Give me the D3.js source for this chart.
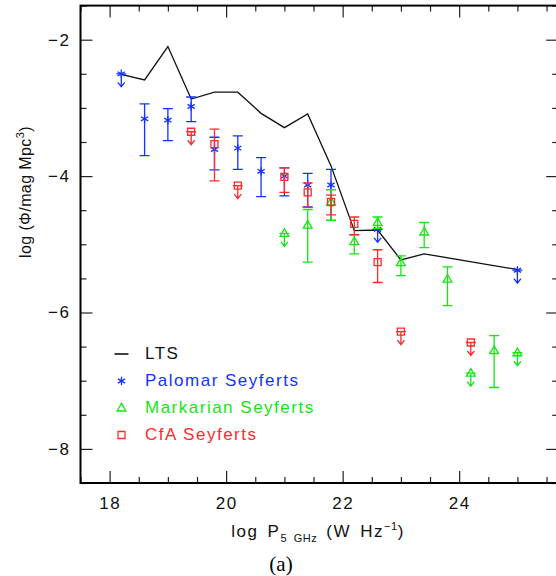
<!DOCTYPE html>
<html>
<head>
<meta charset="utf-8">
<script src="https://cdn.jsdelivr.net/npm/d3@7/dist/d3.min.js"></script>
<style>
  html, body { margin: 0; padding: 0; background: #fff; }
  svg { display: block; }
  text { font-family: "Liberation Sans", Arial, sans-serif; }
</style>
</head>
<body>
<svg id="chart" width="556" height="576"></svg>
<script>
// Radio luminosity function: log P(5 GHz) vs log Phi
const xMajorTicks = [18, 20, 22, 24];
const yMajorTicks = [-2, -4, -6, -8];

// LTS luminosity function (solid line)
const ltsLogP = [18.2, 18.6, 19.0, 19.4, 19.8, 20.2, 20.6, 21.0, 21.4, 21.8, 22.2, 22.6, 23.0, 23.4, 25.0];
const ltsLogPhi = [-2.51, -2.59, -2.10, -2.87, -2.77, -2.77, -3.08, -3.29, -3.09, -3.85, -4.80, -4.79, -5.23, -5.14, -5.37];

// Each point: [logP, logPhi, upper error end, lower error end]; null ends = upper limit
const palomarPoints = [
  [18.2, -2.50, null, null],
  [18.6, -3.16, -2.94, -3.70],
  [19.0, -3.18, -3.01, -3.48],
  [19.4, -2.98, -2.84, -3.20],
  [19.8, -3.61, -3.43, -3.91],
  [20.2, -3.59, -3.41, -3.90],
  [20.6, -3.93, -3.73, -4.30],
  [21.0, -4.00, -3.88, -4.29],
  [21.4, -4.13, -3.96, -4.45],
  [21.8, -4.13, -3.90, -4.65],
  [22.6, -4.78, null, null],
  [25.0, -5.38, null, null]
];
const markarianPoints = [
  [21.0, -4.84, null, null],
  [21.4, -4.72, -4.49, -5.26],
  [21.8, -4.38, -4.20, -4.65],
  [22.2, -4.96, -4.86, -5.14],
  [22.6, -4.68, -4.60, -4.77],
  [23.0, -5.27, -5.17, -5.46],
  [23.4, -4.82, -4.68, -5.05],
  [23.8, -5.51, -5.33, -5.90],
  [24.2, -6.89, null, null],
  [24.6, -6.56, -6.34, -7.10],
  [25.0, -6.59, null, null]
];
const cfaPoints = [
  [19.4, -3.35, null, null],
  [19.8, -3.53, -3.31, -4.07],
  [20.2, -4.14, null, null],
  [21.0, -4.01, -3.88, -4.24],
  [21.4, -4.24, -4.10, -4.46],
  [21.8, -4.38, -4.28, -4.57],
  [22.2, -4.70, -4.60, -4.86],
  [22.6, -5.26, -5.08, -5.56],
  [23.0, -6.28, null, null],
  [24.2, -6.44, null, null]
];

const seriesNames = ["Palomar Seyferts", "Markarian Seyferts", "CfA Seyferts"];
const seriesColors = ["#1432ff", "#14e614", "#ff2a2a"];
const seriesSymbols = ["asterisk", "triangle", "square"];
const seriesData = [palomarPoints, markarianPoints, cfaPoints];

const svg = d3.select("#chart");

const x = d3.scaleLinear().domain([17.5, 25.7]).range([80.5, 558.2]);
const y = d3.scaleLinear().domain([-8.5, -1.5]).range([483, 5.6]);

const xMinor = d3.range(17.5, 25.51, 0.5).filter(v => !xMajorTicks.includes(v));
const yMinor = d3.range(-8.5, -1.49, 0.5).filter(v => !yMajorTicks.includes(v));

const [plotLeft, plotRight] = x.range();
const [plotBottom, plotTop] = y.range();

// Axes: ticks point into the plot on all four sides
function styleAxis(g) {
  g.selectAll(".domain").remove();
  g.selectAll(".tick line").attr("stroke", "#222").attr("stroke-width", 1.2);
  g.selectAll(".tick text")
    .attr("fill", "#111")
    .style("font-size", "17px")
    .style("letter-spacing", "1.5px");
}
const fmt = d => d < 0 ? "\u2212" + Math.abs(d) : String(d);

svg.append("g").attr("transform", `translate(0,${plotBottom})`)
  .call(d3.axisBottom(x).tickValues(xMajorTicks).tickSize(-12).tickSizeOuter(0).tickPadding(14).tickFormat(fmt))
  .call(styleAxis);
svg.append("g").attr("transform", `translate(0,${plotBottom})`)
  .call(d3.axisBottom(x).tickValues(xMinor).tickSize(-6).tickSizeOuter(0).tickFormat(""))
  .call(styleAxis);
svg.append("g").attr("transform", `translate(0,${plotTop})`)
  .call(d3.axisTop(x).tickValues(xMajorTicks).tickSize(-12).tickSizeOuter(0).tickFormat(""))
  .call(styleAxis);
svg.append("g").attr("transform", `translate(0,${plotTop})`)
  .call(d3.axisTop(x).tickValues(xMinor).tickSize(-6).tickSizeOuter(0).tickFormat(""))
  .call(styleAxis);
svg.append("g").attr("transform", `translate(${plotLeft},0)`)
  .call(d3.axisLeft(y).tickValues(yMajorTicks).tickSize(-12).tickSizeOuter(0).tickPadding(10).tickFormat(fmt))
  .call(styleAxis);
svg.append("g").attr("transform", `translate(${plotLeft},0)`)
  .call(d3.axisLeft(y).tickValues(yMinor).tickSize(-6).tickSizeOuter(0).tickFormat(""))
  .call(styleAxis);
svg.append("g").attr("transform", `translate(${plotRight},0)`)
  .call(d3.axisRight(y).tickValues(yMajorTicks).tickSize(-12).tickSizeOuter(0).tickFormat(""))
  .call(styleAxis);
svg.append("g").attr("transform", `translate(${plotRight},0)`)
  .call(d3.axisRight(y).tickValues(yMinor).tickSize(-6).tickSizeOuter(0).tickFormat(""))
  .call(styleAxis);

// Plot frame
svg.append("rect")
  .attr("x", plotLeft).attr("y", plotTop)
  .attr("width", plotRight - plotLeft).attr("height", plotBottom - plotTop)
  .attr("fill", "none").attr("stroke", "#000").attr("stroke-width", 2);

// Symbol paths
function symbolPath(kind) {
  if (kind === "asterisk") {
    const r = 4.2, c = r * Math.cos(Math.PI / 6), s = r * Math.sin(Math.PI / 6);
    return `M0,${-r}L0,${r}M${-c},${-s}L${c},${s}M${-c},${s}L${c},${-s}`;
  }
  if (kind === "triangle") return "M0,-4.6L4.4,3L-4.4,3Z";
  return "M-3.5,-3.5H3.5V3.5H-3.5Z";
}

// LTS line
svg.append("path")
  .datum(d3.zip(ltsLogP, ltsLogPhi))
  .attr("fill", "none").attr("stroke", "#111").attr("stroke-width", 1.3)
  .attr("d", d3.line().x(d => x(d[0])).y(d => y(d[1])));

// Data series: error bars, upper limits, markers
const capHalf = 5;
seriesData.forEach((pts, i) => {
  const col = seriesColors[i];
  const g = svg.append("g").attr("stroke", col).attr("fill", "none").attr("stroke-width", 1.3);
  pts.forEach(([px, py, hi, lo]) => {
    const cx = x(px), cy = y(py);
    if (hi === null) {
      const tip = cy + 13;
      g.append("path").attr("d",
        `M${cx - capHalf},${cy}H${cx + capHalf}M${cx},${cy}V${tip}M${cx - 3.5},${tip - 4.5}L${cx},${tip}L${cx + 3.5},${tip - 4.5}`);
    } else {
      const yh = y(hi), yl = y(lo);
      g.append("path").attr("d",
        `M${cx},${yh}V${yl}M${cx - capHalf},${yh}H${cx + capHalf}M${cx - capHalf},${yl}H${cx + capHalf}`);
    }
    g.append("path").attr("transform", `translate(${cx},${cy})`).attr("d", symbolPath(seriesSymbols[i]));
  });
});

// Legend
const legend = svg.append("g");
const legendX = 121.5, legendTextX = 145;
const legendRows = [354, 381, 408, 435];
legend.append("line")
  .attr("x1", legendX - 7).attr("x2", legendX + 7)
  .attr("y1", legendRows[0]).attr("y2", legendRows[0])
  .attr("stroke", "#111").attr("stroke-width", 1.6);
legend.append("text").attr("x", legendTextX).attr("y", legendRows[0] + 4.5)
  .attr("fill", "#111").style("font-size", "17px").style("letter-spacing", "1.5px").text("LTS");
seriesNames.forEach((name, i) => {
  const ry = legendRows[i + 1];
  legend.append("path").attr("transform", `translate(${legendX},${ry})`)
    .attr("d", symbolPath(seriesSymbols[i]))
    .attr("fill", "none").attr("stroke", seriesColors[i]).attr("stroke-width", 1.3);
  legend.append("text").attr("x", legendTextX).attr("y", ry + 4.5)
    .attr("fill", seriesColors[i]).style("font-size", "17px").style("letter-spacing", "1.5px").text(name);
});

// Axis titles
const xt = svg.append("text").attr("x", 318).attr("y", 537).attr("text-anchor", "middle")
  .attr("fill", "#111").style("font-size", "17px").style("letter-spacing", "1.5px").style("word-spacing", "3px");
xt.append("tspan").text("log P");
xt.append("tspan").attr("dy", 5).style("font-size", "11px").style("letter-spacing", "0.5px").text("5 GHz");
xt.append("tspan").attr("dy", -5).text(" (W Hz");
xt.append("tspan").attr("dy", -7).style("font-size", "11px").style("letter-spacing", "0.5px").text("\u22121");
xt.append("tspan").attr("dy", 7).text(")");

const yt = svg.append("text").attr("transform", "translate(31,192) rotate(-90)").attr("text-anchor", "middle")
  .attr("fill", "#111").style("font-size", "16px").style("letter-spacing", "0.4px");
yt.append("tspan").text("log (\u03A6/mag Mpc");
yt.append("tspan").attr("dy", -7).style("font-size", "11px").text("3");
yt.append("tspan").attr("dy", 7).text(")");

svg.append("text").attr("x", 281).attr("y", 571).attr("text-anchor", "middle")
  .attr("fill", "#000").style("font-family", "'Liberation Serif', 'Times New Roman', serif")
  .style("font-size", "21px").text("(a)");
</script>
</body>
</html>
